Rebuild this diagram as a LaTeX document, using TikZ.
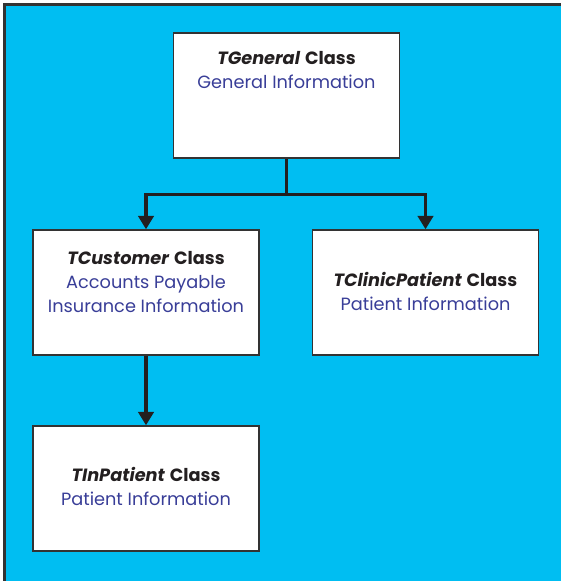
\documentclass[tikz,border=0pt]{standalone}
\usepackage{fontspec}
\setmainfont{Poppins}
\usepackage{tikz}
\usetikzlibrary{positioning, arrows.meta, calc}
\definecolor{panelblue}{RGB}{0,190,242}
\definecolor{infoblue}{RGB}{57,62,152}
\definecolor{edgegray}{RGB}{51,51,51}
\definecolor{linkblack}{RGB}{35,31,32}

\begin{document}
\begin{tikzpicture}[
  x=0.75pt, y=-0.75pt,
  every node/.style={font=\fontsize{13.3}{18}\selectfont},
  box/.style={draw=edgegray, line width=1.1pt, fill=white, minimum width=169.5pt, minimum height=93.75pt, inner sep=0pt},
  info/.style={align=center, text=infoblue},
  link/.style={draw=linkblack, line width=2.3pt, -{Triangle[width=11.5pt,length=10pt]}}
]
\useasboundingbox (0,0) rectangle (561,581);
\fill[white] (0,0) rectangle (561,581);
\fill[panelblue] (4.5,4.5) rectangle (561,581);
\draw[edgegray, line width=1.6pt] (4.5,581) -- (4.5,4.5) -- (561,4.5);
\def\classbox#1#2#3#4#5{%
  \node[box] (#1) at (#2) {};
  \node[info] (#1-txt) at (#3) {\textcolor{linkblack}{\textbf{\textit{#4}} \textbf{Class}}\\ #5};
}
\classbox{gen}{286.5,95.5}{286.5,70}{TGeneral}{General Information}
\classbox{cust}{146,292.5}{146,282}{TCustomer}{Accounts Payable\\ Insurance Information}
\classbox{clin}{425.5,292.5}{425.5,291.5}{TClinicPatient}{Patient Information}
\classbox{inpat}{146,488.5}{146,486.5}{TInPatient}{Patient Information}
\coordinate (fork) at ($(gen.south)+(0,36)$);
\draw[link, -] (gen.south) -- (fork);
\draw[link] (fork) -| (cust.north);
\draw[link] (fork) -| (clin.north);
\draw[link] (cust.south) -- (inpat.north);
\end{tikzpicture}
\end{document}
